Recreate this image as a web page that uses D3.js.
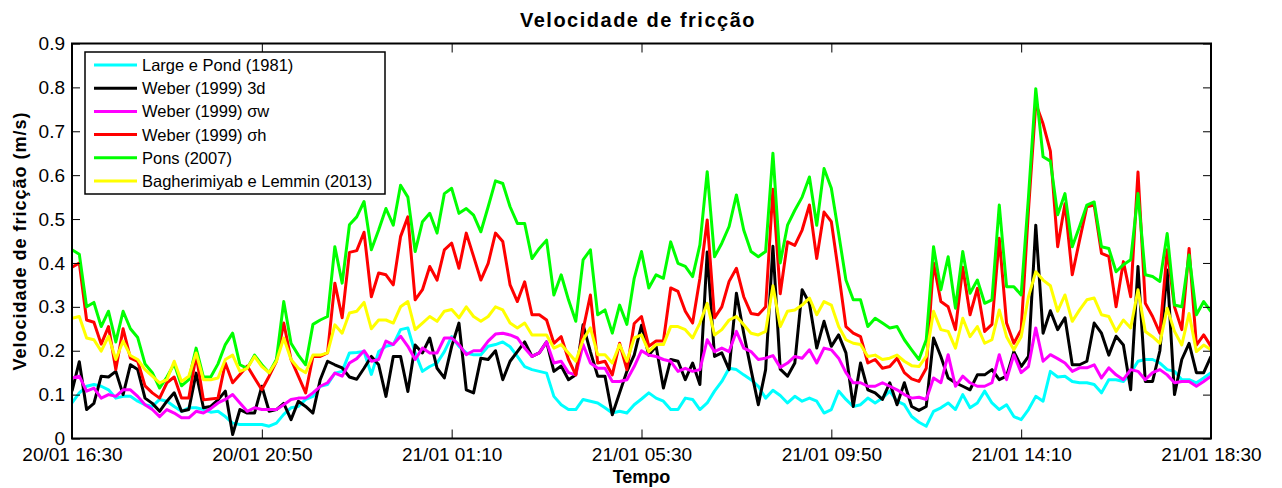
<!DOCTYPE html>
<html lang="en">
<head>
<meta charset="utf-8" />
<title>Velocidade de fricção</title>
<style>
  * {margin: 0; padding: 0;}
  body {background: #fff;}
  text {font-family: "Liberation Sans", Arial, Helvetica, sans-serif; fill: #000;}
</style>
</head>
<body>
<div id="viz"></div>
<script src="https://cdn.jsdelivr.net/npm/d3@7"></script>
<script>

// 10-minute samples from 20/01 16:30 to 21/01 18:30
var startTime = new Date(2015, 0, 20, 16, 30);
var stepMinutes = 10;
var tickLabels = ["20/01 16:30", "20/01 20:50", "21/01 01:10", "21/01 05:30",
                  "21/01 09:50", "21/01 14:10", "21/01 18:30"];
var yTicks = [0, 0.1, 0.2, 0.3, 0.4, 0.5, 0.6, 0.7, 0.8, 0.9];

var largePond = [0.081,0.104,0.119,0.123,0.119,0.111,0.092,0.096,0.096,0.085,0.077,0.073,0.089,0.085,0.073,0.062,0.07,0.07,0.066,0.06,
  0.062,0.05,0.035,0.032,0.032,0.032,0.032,0.028,0.035,0.055,0.07,0.073,0.089,0.096,0.119,0.123,0.149,0.153,0.195,0.196,
  0.198,0.146,0.198,0.21,0.214,0.248,0.252,0.195,0.153,0.164,0.172,0.198,0.232,0.21,0.195,0.191,0.191,0.21,0.214,0.22,
  0.209,0.187,0.164,0.157,0.153,0.149,0.096,0.077,0.066,0.066,0.089,0.085,0.081,0.07,0.058,0.062,0.058,0.077,0.09,0.104,
  0.092,0.085,0.066,0.066,0.092,0.089,0.066,0.081,0.108,0.13,0.16,0.157,0.145,0.134,0.119,0.092,0.11,0.098,0.081,0.096,
  0.085,0.092,0.085,0.058,0.066,0.108,0.089,0.073,0.077,0.092,0.081,0.092,0.108,0.085,0.077,0.05,0.037,0.028,0.062,0.07,
  0.081,0.066,0.1,0.07,0.081,0.108,0.081,0.066,0.077,0.05,0.043,0.066,0.096,0.085,0.153,0.14,0.142,0.13,0.127,0.127,
  0.123,0.104,0.134,0.134,0.13,0.149,0.176,0.18,0.18,0.172,0.157,0.153,0.134,0.134,0.127,0.138,0.15];

var weber3d = [0.108,0.175,0.066,0.08,0.142,0.14,0.153,0.1,0.168,0.157,0.092,0.08,0.062,0.085,0.104,0.062,0.066,0.149,0.07,0.073,
  0.088,0.108,0.009,0.066,0.058,0.058,0.119,0.062,0.066,0.08,0.043,0.085,0.073,0.058,0.134,0.176,0.168,0.161,0.14,0.135,
  0.16,0.187,0.168,0.096,0.187,0.187,0.107,0.213,0.195,0.229,0.16,0.138,0.21,0.263,0.111,0.104,0.183,0.18,0.2,0.134,
  0.176,0.198,0.22,0.187,0.195,0.22,0.153,0.165,0.134,0.145,0.259,0.198,0.142,0.142,0.054,0.104,0.153,0.19,0.258,0.19,
  0.21,0.115,0.18,0.176,0.134,0.172,0.123,0.425,0.187,0.195,0.157,0.331,0.24,0.157,0.077,0.157,0.438,0.158,0.142,0.172,
  0.339,0.308,0.206,0.267,0.21,0.236,0.195,0.073,0.172,0.111,0.104,0.089,0.127,0.077,0.127,0.073,0.064,0.073,0.229,0.187,
  0.138,0.127,0.119,0.111,0.145,0.145,0.157,0.134,0.142,0.198,0.164,0.187,0.486,0.24,0.291,0.248,0.275,0.168,0.168,0.176,
  0.263,0.24,0.19,0.233,0.213,0.111,0.392,0.13,0.13,0.2,0.384,0.1,0.18,0.217,0.15,0.15,0.187];

var weberSw = [0.138,0.142,0.108,0.115,0.092,0.1,0.096,0.111,0.111,0.096,0.077,0.066,0.05,0.066,0.058,0.047,0.047,0.062,0.058,0.068,
  0.081,0.089,0.1,0.081,0.062,0.07,0.066,0.066,0.066,0.077,0.089,0.092,0.092,0.104,0.119,0.127,0.149,0.142,0.172,0.182,
  0.2,0.176,0.18,0.222,0.214,0.233,0.21,0.18,0.206,0.195,0.195,0.229,0.229,0.214,0.191,0.2,0.2,0.222,0.238,0.24,
  0.236,0.229,0.206,0.187,0.195,0.22,0.172,0.176,0.15,0.145,0.214,0.172,0.16,0.16,0.13,0.13,0.134,0.164,0.2,0.19,
  0.187,0.18,0.176,0.153,0.16,0.153,0.157,0.225,0.198,0.206,0.198,0.244,0.206,0.198,0.18,0.183,0.189,0.162,0.172,0.187,
  0.183,0.202,0.172,0.206,0.202,0.183,0.15,0.127,0.127,0.119,0.119,0.127,0.119,0.111,0.1,0.092,0.094,0.089,0.138,0.127,
  0.191,0.119,0.142,0.127,0.119,0.119,0.127,0.191,0.134,0.191,0.15,0.164,0.252,0.176,0.191,0.182,0.172,0.153,0.161,0.161,
  0.168,0.138,0.161,0.145,0.134,0.157,0.153,0.134,0.15,0.157,0.145,0.127,0.13,0.13,0.119,0.13,0.142];

var weberSh = [0.39,0.40,0.27,0.265,0.215,0.255,0.157,0.25,0.183,0.176,0.12,0.104,0.092,0.127,0.14,0.092,0.092,0.19,0.088,0.09,
  0.092,0.172,0.127,0.146,0.165,0.138,0.111,0.142,0.176,0.263,0.18,0.142,0.104,0.187,0.187,0.195,0.354,0.275,0.424,0.428,
  0.47,0.323,0.377,0.373,0.35,0.46,0.505,0.316,0.339,0.392,0.361,0.43,0.445,0.388,0.468,0.415,0.361,0.399,0.468,0.449,
  0.35,0.312,0.357,0.282,0.282,0.27,0.217,0.232,0.18,0.145,0.248,0.327,0.172,0.176,0.145,0.217,0.157,0.262,0.278,0.21,
  0.222,0.222,0.343,0.335,0.29,0.263,0.365,0.498,0.275,0.3,0.358,0.388,0.323,0.285,0.282,0.3,0.568,0.33,0.448,0.44,
  0.475,0.532,0.41,0.516,0.494,0.377,0.255,0.24,0.232,0.172,0.18,0.16,0.164,0.183,0.15,0.136,0.13,0.16,0.4,0.312,
  0.3,0.248,0.39,0.282,0.342,0.244,0.26,0.456,0.263,0.217,0.248,0.52,0.763,0.717,0.655,0.437,0.535,0.373,0.452,0.528,
  0.532,0.422,0.415,0.3,0.403,0.323,0.607,0.308,0.278,0.24,0.43,0.3,0.248,0.433,0.213,0.236,0.21];

var pons = [0.43,0.42,0.30,0.31,0.255,0.29,0.22,0.29,0.25,0.23,0.17,0.15,0.115,0.14,0.17,0.12,0.134,0.206,0.14,0.14,
  0.17,0.214,0.24,0.168,0.16,0.19,0.168,0.15,0.18,0.312,0.217,0.19,0.168,0.26,0.27,0.278,0.437,0.354,0.487,0.505,
  0.54,0.43,0.475,0.524,0.486,0.577,0.55,0.426,0.494,0.513,0.468,0.558,0.57,0.513,0.524,0.509,0.471,0.528,0.587,0.581,
  0.528,0.49,0.49,0.41,0.433,0.452,0.327,0.373,0.316,0.267,0.407,0.43,0.282,0.293,0.24,0.304,0.26,0.365,0.426,0.343,
  0.373,0.365,0.448,0.399,0.392,0.369,0.441,0.608,0.414,0.445,0.483,0.555,0.475,0.426,0.414,0.426,0.65,0.40,0.486,0.52,
  0.55,0.596,0.486,0.615,0.57,0.467,0.361,0.316,0.316,0.255,0.274,0.263,0.252,0.255,0.225,0.202,0.18,0.225,0.437,0.339,
  0.414,0.297,0.426,0.331,0.361,0.308,0.316,0.532,0.346,0.346,0.327,0.55,0.797,0.642,0.632,0.51,0.558,0.437,0.483,0.532,
  0.539,0.437,0.433,0.38,0.396,0.407,0.558,0.373,0.369,0.358,0.467,0.304,0.3,0.418,0.282,0.312,0.289];

var bagherimiyab = [0.274,0.278,0.229,0.225,0.199,0.233,0.18,0.222,0.189,0.18,0.157,0.142,0.127,0.134,0.176,0.13,0.142,0.195,0.134,0.134,
  0.138,0.18,0.19,0.153,0.16,0.187,0.164,0.15,0.176,0.229,0.18,0.16,0.15,0.19,0.19,0.195,0.259,0.24,0.286,0.29,
  0.31,0.25,0.27,0.27,0.263,0.3,0.312,0.248,0.263,0.278,0.267,0.29,0.294,0.275,0.3,0.278,0.267,0.278,0.3,0.293,
  0.263,0.252,0.263,0.236,0.236,0.236,0.206,0.214,0.195,0.176,0.225,0.252,0.191,0.191,0.172,0.214,0.176,0.229,0.236,0.198,
  0.214,0.214,0.255,0.255,0.248,0.229,0.263,0.308,0.236,0.248,0.27,0.278,0.259,0.24,0.236,0.244,0.348,0.255,0.29,0.293,
  0.304,0.32,0.282,0.312,0.304,0.255,0.225,0.217,0.214,0.187,0.19,0.18,0.183,0.19,0.176,0.166,0.164,0.187,0.29,0.248,
  0.244,0.206,0.274,0.232,0.255,0.217,0.225,0.293,0.232,0.202,0.232,0.323,0.38,0.361,0.348,0.29,0.327,0.267,0.293,0.316,
  0.32,0.282,0.278,0.244,0.27,0.252,0.339,0.244,0.232,0.217,0.297,0.244,0.213,0.285,0.198,0.213,0.202];

var seriesNames = ["Large e Pond (1981)", "Weber (1999) 3d", "Weber (1999) \u03c3w",
                   "Weber (1999) \u03c3h", "Pons (2007)", "Bagherimiyab e Lemmin (2013)"];
var seriesColors = ["#00ffff", "#000000", "#ff00ff", "#ff0000", "#00ff00", "#ffff00"];
var seriesData = [largePond, weber3d, weberSw, weberSh, pons, bagherimiyab];

var w = 1282, h = 488;
var plotLeft = 72, plotRight = 1211, plotTop = 43.5, plotBottom = 438.5;

var svg = d3.select("#viz").append("svg").attr("width", w).attr("height", h);

var endTime = d3.timeMinute.offset(startTime, stepMinutes * (largePond.length - 1));
var x = d3.scaleTime().domain([startTime, endTime]).range([plotLeft, plotRight]);
var y = d3.scaleLinear().domain([0, 0.9]).range([plotBottom, plotTop]);

var timeOf = function(i){ return d3.timeMinute.offset(startTime, i * stepMinutes); };
var tickTimes = tickLabels.map(function(d, i){
    return d3.timeMinute.offset(startTime, i * 260); });

svg.append("clipPath").attr("id", "plotclip").append("rect")
    .attr("x", plotLeft).attr("y", plotTop)
    .attr("width", plotRight - plotLeft).attr("height", plotBottom - plotTop);

// lines
var line = d3.line()
    .x(function(d, i){ return x(timeOf(i)); })
    .y(function(d){ return y(d); });

svg.append("g").attr("clip-path", "url(#plotclip)")
    .selectAll("path")
    .data(seriesData)
    .enter()
    .append("path")
    .attr("d", line)
    .style("fill", "none")
    .style("stroke", function(d, i){ return seriesColors[i]; })
    .style("stroke-width", 3)
    .style("stroke-linejoin", "round");

// axes (ticks inside, mirrored like matlab box)
var xBottom = d3.axisBottom(x).tickValues(tickTimes).tickSize(-9)
    .tickFormat(function(d, i){ return tickLabels[i]; }).tickPadding(9);
var xTop = d3.axisTop(x).tickValues(tickTimes).tickSize(-9).tickFormat("");
var yLeft = d3.axisLeft(y).tickValues(yTicks).tickSize(-8).tickFormat(d3.format("")).tickPadding(7);
var yRight = d3.axisRight(y).tickValues(yTicks).tickSize(-8).tickFormat("");

function styleAxis(g){
    g.select(".domain").remove();
    g.selectAll("line").style("stroke", "#000").style("stroke-width", 1);
    g.selectAll("text").style("font-family", '"Liberation Sans", Arial, sans-serif')
        .style("font-size", "19px").style("fill", "#000");
}
svg.append("g").attr("transform", "translate(0," + plotBottom + ")").call(xBottom).call(styleAxis);
svg.append("g").attr("transform", "translate(0," + plotTop + ")").call(xTop).call(styleAxis);
svg.append("g").attr("transform", "translate(" + plotLeft + ",0)").call(yLeft).call(styleAxis);
svg.append("g").attr("transform", "translate(" + plotRight + ",0)").call(yRight).call(styleAxis);

svg.append("rect")
    .attr("x", plotLeft).attr("y", plotTop)
    .attr("width", plotRight - plotLeft).attr("height", plotBottom - plotTop)
    .style("fill", "none").style("stroke", "#000").style("stroke-width", 2);

// titles
svg.append("text")
    .attr("x", 638).attr("y", 27)
    .attr("text-anchor", "middle")
    .style("font-size", "20px").style("font-weight", "bold").style("letter-spacing", "1.5px")
    .text("Velocidade de fric\u00e7\u00e3o");

svg.append("text")
    .attr("x", (plotLeft + plotRight) / 2).attr("y", 483)
    .attr("text-anchor", "middle")
    .style("font-size", "18px").style("font-weight", "bold")
    .text("Tempo");

svg.append("text")
    .attr("transform", "translate(26," + (plotTop + plotBottom) / 2 + ") rotate(-90)")
    .attr("text-anchor", "middle")
    .style("font-size", "18px").style("font-weight", "bold").style("letter-spacing", "1px")
    .text("Velocidade de fric\u00e7\u00e3o (m/s)");

// legend
var legend = svg.append("g");
legend.append("rect")
    .attr("x", 85).attr("y", 52).attr("width", 300).attr("height", 142)
    .style("fill", "#fff").style("stroke", "#000").style("stroke-width", 1.5);

var items = legend.selectAll("g.item")
    .data(seriesNames)
    .enter()
    .append("g")
    .attr("transform", function(d, i){ return "translate(0," + (65 + i * 23.2) + ")"; });

items.append("line")
    .attr("x1", 94).attr("x2", 137).attr("y1", 0).attr("y2", 0)
    .style("stroke", function(d, i){ return seriesColors[i]; })
    .style("stroke-width", 3);

items.append("text")
    .attr("x", 142).attr("y", 0).attr("dy", "0.36em")
    .style("font-size", "16.5px")
    .text(function(d){ return d; });
</script>
</body>
</html>
